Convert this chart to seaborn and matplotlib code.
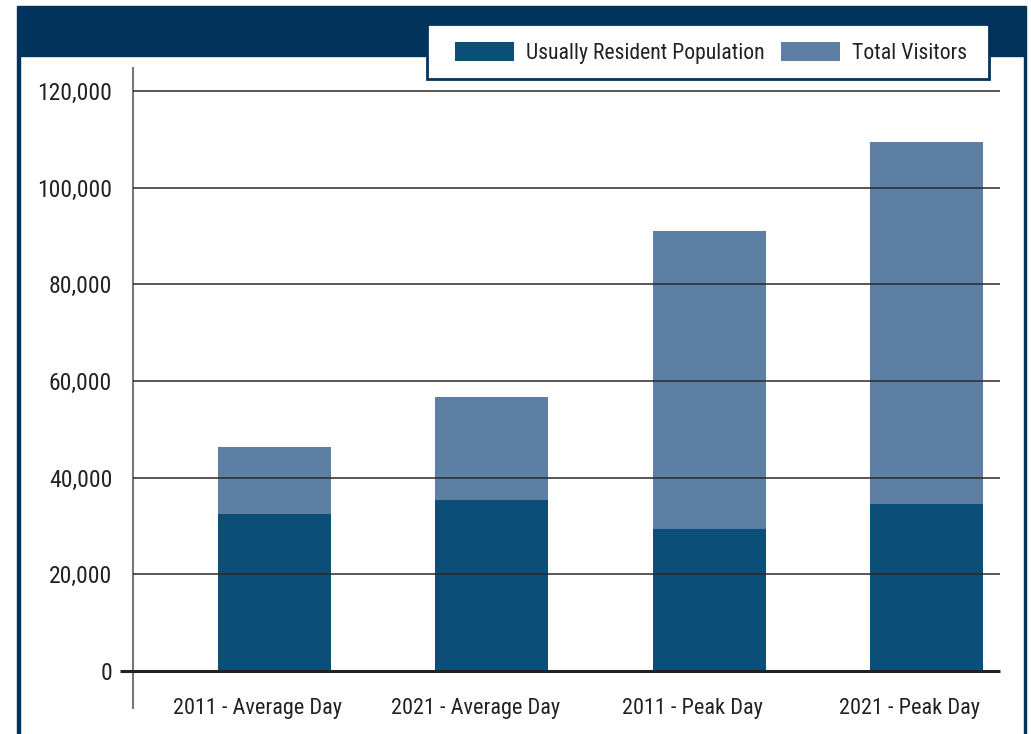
import numpy as np
import pandas as pd
import seaborn as sns
import matplotlib.pyplot as plt
from matplotlib.patches import Rectangle, Patch
from matplotlib import font_manager

# data
categories = ["2011 - Average Day", "2021 - Average Day", "2011 - Peak Day", "2021 - Peak Day"]
resident = [32500, 35400, 29400, 34600]
visitors = [13800, 21300, 61600, 74900]
yticks = [0, 20000, 40000, 60000, 80000, 100000, 120000]

navy = "#02335c"
dark = "#0b4f78"
light = "#5c7fa3"
ink = "#222222"

sns.set_style("white")

# narrow face if there is one
names = {f.name for f in font_manager.fontManager.ttflist}
fam = "Roboto Condensed" if "Roboto Condensed" in names else "Roboto"
plt.rcParams["font.family"] = [fam, "DejaVu Sans"]

df = pd.DataFrame({"cat": categories, "resident": resident, "visitors": visitors})
df["total"] = df["resident"] + df["visitors"]

W, H = 1031, 734
fig = plt.figure(figsize=(W / 100, H / 100), dpi=100)


def box(x0, y0, x1, y1, **kw):
    # rectangle in pixels from the top-left corner
    r = Rectangle((x0 / W, 1 - y1 / H), (x1 - x0) / W, (y1 - y0) / H, transform=fig.transFigure, **kw)
    fig.patches.append(r)
    return r


# frame: header band and side borders
box(17, 6, 1026, 56, color=navy, zorder=0)
box(17, 56, 19.5, H, color=navy, zorder=0)
box(1023.5, 56, 1026, H, color=navy, zorder=0)

ax = fig.add_axes([133 / W, 1 - 708 / H, (1000 - 133) / W, (708 - 68) / H])
sns.barplot(data=df, x="cat", y="total", color=light, width=0.52, saturation=1, ax=ax, zorder=1,
            edgecolor="none", linewidth=0)
sns.barplot(data=df, x="cat", y="resident", color=dark, width=0.52, saturation=1, ax=ax, zorder=1,
            edgecolor="none", linewidth=0)

ax.set_xlim(-0.651, 3.339)
ax.set_ylim(-7650, 124770)

for v in yticks[1:]:
    ax.axhline(v, color="#2a2a2a", lw=1.1, zorder=3)
ax.plot([-0.655 - 12 / 217.3, 3.339], [0, 0], color=ink, lw=2.2, zorder=4, clip_on=False,
        solid_capstyle="butt")

for s in ["top", "right", "bottom"]:
    ax.spines[s].set_visible(False)
ax.spines["left"].set_color("#777777")
ax.spines["left"].set_linewidth(1.5)

ax.set_yticks(yticks)
ax.set_yticklabels([f"{v:,}" for v in yticks], fontsize=17, color=ink)
ax.set_xticks(np.arange(len(categories)) - 0.076)
ax.set_xticklabels(categories, fontsize=16, color=ink)
ax.tick_params(axis="both", length=0)
ax.tick_params(axis="y", pad=15)
ax.tick_params(axis="x", pad=-7.5)
ax.set_xlabel("")
ax.set_ylabel("")

# legend box sits over the header band
box(427, 24, 989, 79, facecolor="white", edgecolor=navy, lw=2, zorder=4)
handles = [Patch(facecolor=dark, edgecolor="none", label="Usually Resident Population"),
           Patch(facecolor=light, edgecolor="none", label="Total Visitors")]
leg = fig.legend(handles=handles, loc="center left", bbox_to_anchor=(455 / W, 1 - 53 / H),
                 ncol=2, frameon=False, fontsize=15.7, handlelength=2.7, handleheight=1.0,
                 columnspacing=0.75, handletextpad=0.55, borderpad=0, borderaxespad=0)
leg.set_zorder(6)
for t in leg.get_texts():
    t.set_color(ink)

fig.savefig("out.png", dpi=100)
